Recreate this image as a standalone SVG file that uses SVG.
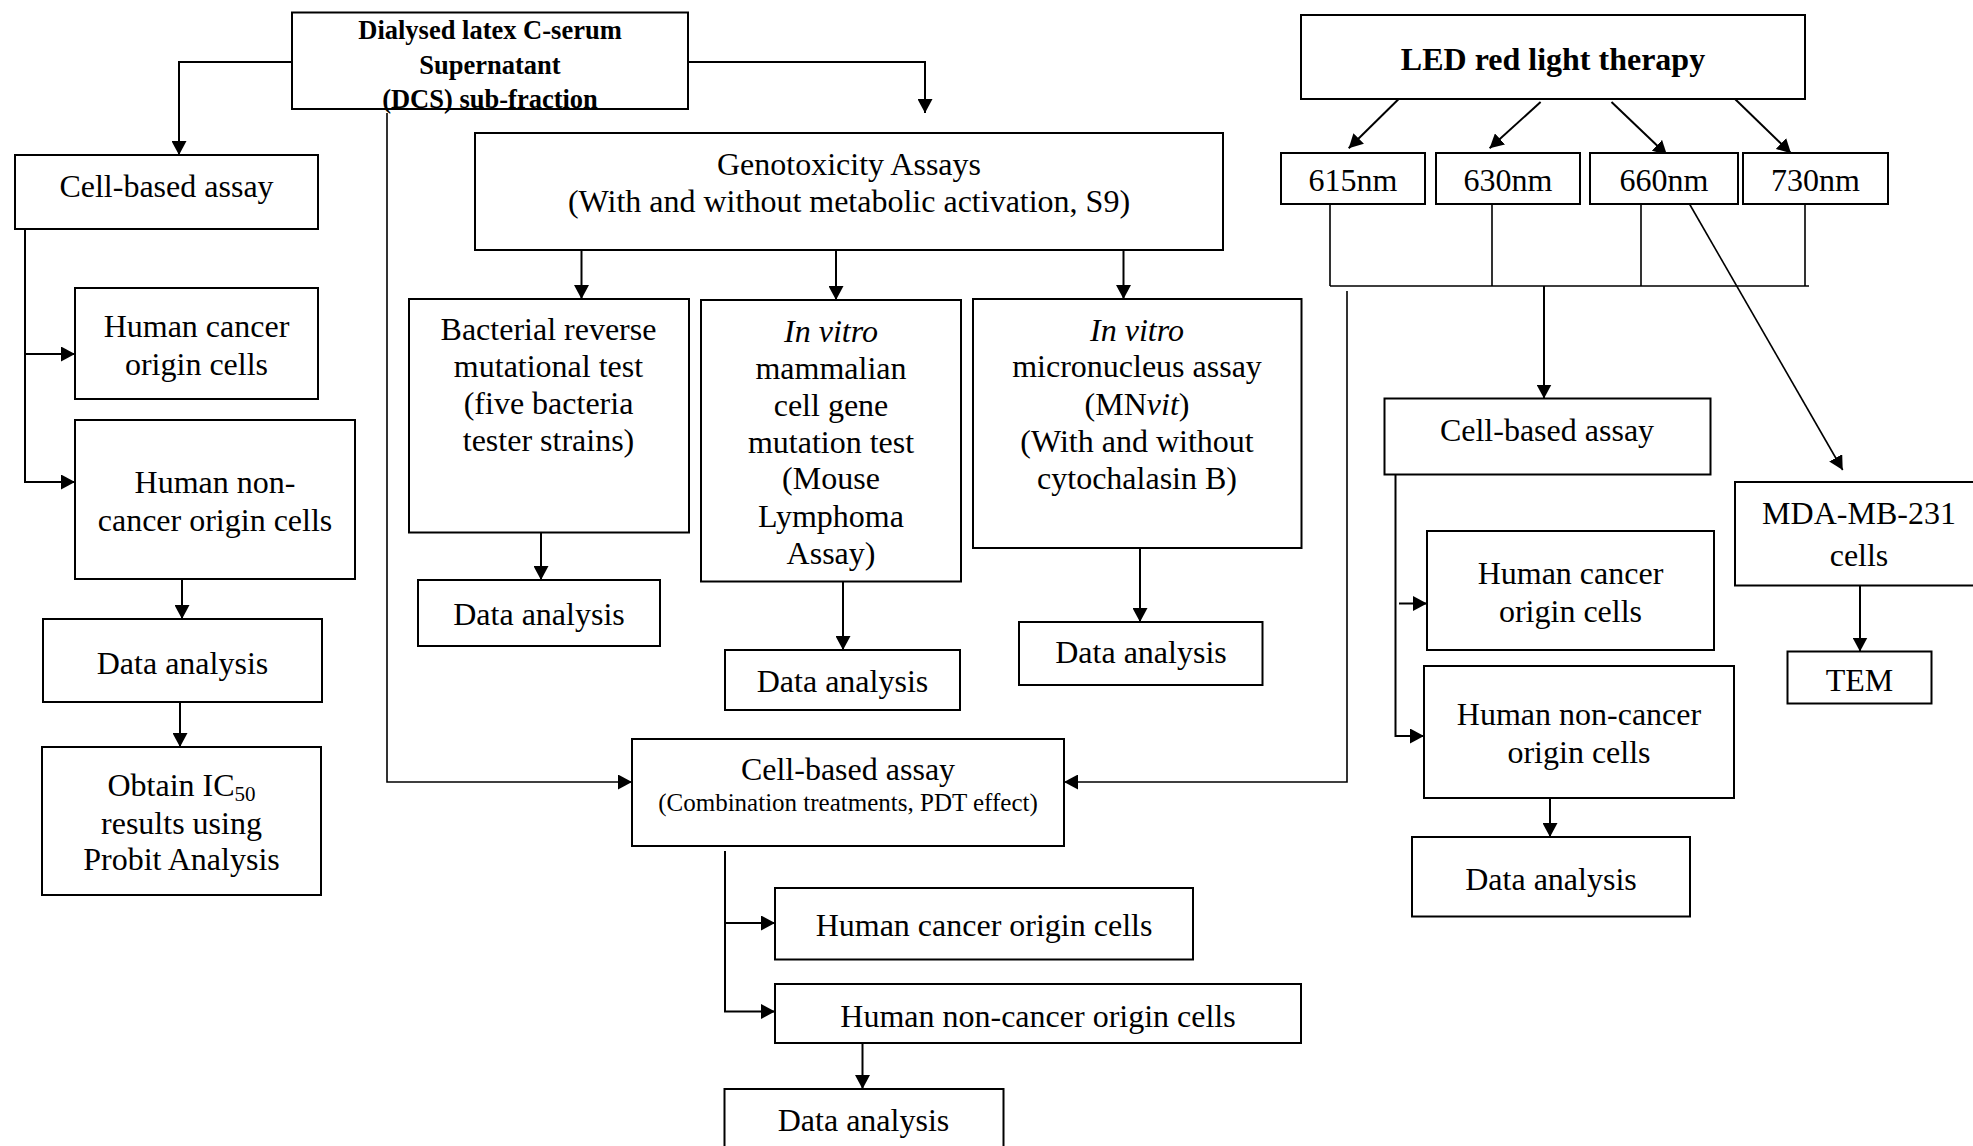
<svg xmlns="http://www.w3.org/2000/svg" width="1973" height="1146" viewBox="0 0 1973 1146">
<defs>
<marker id="ah" markerUnits="userSpaceOnUse" markerWidth="14" markerHeight="15" refX="14" refY="7.5" orient="auto" viewBox="0 0 14 15"><path d="M0,0 L14,7.5 L0,15 z" fill="#000"/></marker>
</defs>
<style>
.box{fill:#fff;stroke:#000;stroke-width:2}
.t{font-family:"Liberation Serif","Times New Roman",serif;font-size:32px;fill:#000;text-anchor:middle}
.b{font-weight:bold}
.s{font-size:25px}
.i{font-style:italic}
.sub{font-size:21px}
.c{fill:none;stroke:#000;stroke-width:2}
.a{marker-end:url(#ah)}
.thin{stroke-width:1.6}
</style>
<rect width="1973" height="1146" fill="#fff"/>

<g id="connectors">
<path class="c a" d="M292,62 H179 V155"/>
<path class="c a" d="M688,62 H925 V113"/>
<path class="c thin a" d="M387,113 V782 H632"/>
<path class="c a" d="M25,229 V482 H75"/>
<path class="c a" d="M25,354 H75"/>
<path class="c a" d="M182,579 V619"/>
<path class="c a" d="M180,702 V747"/>
<path class="c a" d="M581.5,250 V299"/>
<path class="c a" d="M836,250 V300"/>
<path class="c a" d="M1123.5,250 V299"/>
<path class="c a" d="M541,533 V580"/>
<path class="c a" d="M843,582 V650"/>
<path class="c a" d="M1140,548 V622"/>
<path class="c a" d="M725,851 V1011.5 H775"/>
<path class="c a" d="M725,923 H775"/>
<path class="c a" d="M862.5,1043 V1089"/>
<path class="c a" d="M1398.7,99 L1348.7,148.3"/>
<path class="c a" d="M1540.6,102 L1489.6,148.3"/>
<path class="c a" d="M1611.5,102 L1667,155"/>
<path class="c a" d="M1735,99 L1791,153.3"/>
<path class="c thin" d="M1330,204 V286 M1492,204 V286 M1641,204 V286 M1805,204 V286 M1330,286 H1809"/>
<path class="c a" d="M1544,286 V398.5"/>
<path class="c thin a" d="M1347,291 V782 H1064"/>
<path class="c thin a" d="M1689.5,204 L1842.7,470"/>
<path class="c a" d="M1395.5,475 V736 H1424"/>
<path class="c a" d="M1399,603.5 H1427"/>
<path class="c a" d="M1550,798 V837"/>
<path class="c a" d="M1860,586 V651.5"/>
</g>

<g id="dcs"><rect class="box" x="292" y="12.5" width="396" height="96.5"/>
<text class="t b" style="font-size:26.5px" x="490" y="39">Dialysed latex C-serum</text>
<text class="t b" style="font-size:26.5px" x="490" y="74">Supernatant</text>
<text class="t b" style="font-size:26.5px" x="490" y="108">(DCS) sub-fraction</text></g>

<g id="cell1"><rect class="box" x="15" y="155" width="303" height="74"/>
<text class="t" x="166.5" y="197">Cell-based assay</text></g>
<g id="hc1"><rect class="box" x="75" y="288" width="243" height="111"/>
<text class="t" x="196.5" y="337">Human cancer</text><text class="t" x="196.5" y="374.5">origin cells</text></g>
<g id="hnc1"><rect class="box" x="75" y="420" width="280" height="159"/>
<text class="t" x="215" y="493">Human non-</text><text class="t" x="215" y="530.5">cancer origin cells</text></g>
<g id="da1"><rect class="box" x="43" y="619" width="279" height="83"/>
<text class="t" x="182.5" y="674">Data analysis</text></g>
<g id="ic50"><rect class="box" x="42" y="747" width="279" height="148"/>
<text class="t" x="181.5" y="796">Obtain IC<tspan class="sub" dy="5">50</tspan></text>
<text class="t" x="181.5" y="834">results using</text>
<text class="t" x="181.5" y="870">Probit Analysis</text></g>

<g id="geno"><rect class="box" x="475" y="133" width="748" height="117"/>
<text class="t" x="849" y="175">Genotoxicity Assays</text>
<text class="t" x="849" y="212">(With and without metabolic activation, S9)</text></g>
<g id="bact"><rect class="box" x="409" y="299" width="280" height="233.5"/>
<text class="t" x="548.5" y="339.5">Bacterial reverse</text>
<text class="t" x="548.5" y="377">mutational test</text>
<text class="t" x="548.5" y="414">(five bacteria</text>
<text class="t" x="548.5" y="451">tester strains)</text></g>
<g id="mamm"><rect class="box" x="701" y="300" width="260" height="281.5"/>
<text class="t i" x="831" y="342">In vitro</text>
<text class="t" x="831" y="378.5">mammalian</text>
<text class="t" x="831" y="416">cell gene</text>
<text class="t" x="831" y="452.5">mutation test</text>
<text class="t" x="831" y="489">(Mouse</text>
<text class="t" x="831" y="527">Lymphoma</text>
<text class="t" x="831" y="563.5">Assay)</text></g>
<g id="micro"><rect class="box" x="973" y="299" width="328.5" height="249"/>
<text class="t i" x="1137" y="340.5">In vitro</text>
<text class="t" x="1137" y="377">micronucleus assay</text>
<text class="t" x="1137" y="415">(MN<tspan class="i">vit</tspan>)</text>
<text class="t" x="1137" y="451.5">(With and without</text>
<text class="t" x="1137" y="489">cytochalasin B)</text></g>
<g id="da_b"><rect class="box" x="418" y="580" width="242" height="66"/>
<text class="t" x="539" y="625">Data analysis</text></g>
<g id="da_m"><rect class="box" x="725" y="650" width="235" height="60"/>
<text class="t" x="842.5" y="692">Data analysis</text></g>
<g id="da_mn"><rect class="box" x="1019" y="622" width="243.5" height="63"/>
<text class="t" x="1141" y="663">Data analysis</text></g>

<g id="comb"><rect class="box" x="632" y="739" width="432" height="107"/>
<text class="t" x="848" y="780">Cell-based assay</text>
<text class="t s" x="848" y="810.5">(Combination treatments, PDT effect)</text></g>
<g id="hc2"><rect class="box" x="775" y="888" width="418" height="71.5"/>
<text class="t" x="984" y="936">Human cancer origin cells</text></g>
<g id="hnc2"><rect class="box" x="775" y="984" width="526" height="59"/>
<text class="t" x="1038" y="1026.5">Human non-cancer origin cells</text></g>
<g id="da_c"><rect class="box" x="724.5" y="1089" width="279" height="70"/>
<text class="t" x="863.5" y="1131">Data analysis</text></g>

<g id="led"><rect class="box" x="1301" y="15" width="504" height="84"/>
<text class="t b" x="1553" y="70">LED red light therapy</text></g>
<g id="w615"><rect class="box" x="1281" y="153" width="144" height="51"/>
<text class="t" x="1353" y="191">615nm</text></g>
<g id="w630"><rect class="box" x="1436" y="153" width="144" height="51"/>
<text class="t" x="1508" y="191">630nm</text></g>
<g id="w660"><rect class="box" x="1590" y="153" width="148" height="51"/>
<text class="t" x="1664" y="191">660nm</text></g>
<g id="w730"><rect class="box" x="1743" y="153" width="145" height="51"/>
<text class="t" x="1815.5" y="191">730nm</text></g>

<g id="cell3"><rect class="box" x="1384.5" y="398.5" width="326" height="76"/>
<text class="t" x="1547" y="441">Cell-based assay</text></g>
<g id="hc3"><rect class="box" x="1427" y="531" width="287" height="119"/>
<text class="t" x="1570.5" y="583.5">Human cancer</text><text class="t" x="1570.5" y="622">origin cells</text></g>
<g id="hnc3"><rect class="box" x="1424" y="666" width="310" height="132"/>
<text class="t" x="1579" y="724.5">Human non-cancer</text><text class="t" x="1579" y="763">origin cells</text></g>
<g id="da3"><rect class="box" x="1412" y="837" width="278" height="79.5"/>
<text class="t" x="1551" y="890">Data analysis</text></g>
<g id="mda"><rect class="box" x="1735" y="482" width="250" height="103.5"/>
<text class="t" x="1859" y="524">MDA-MB-231</text><text class="t" x="1859" y="566">cells</text></g>
<g id="tem"><rect class="box" x="1787.5" y="651.5" width="144" height="52"/>
<text class="t" x="1859.5" y="690.5">TEM</text></g>
</svg>
